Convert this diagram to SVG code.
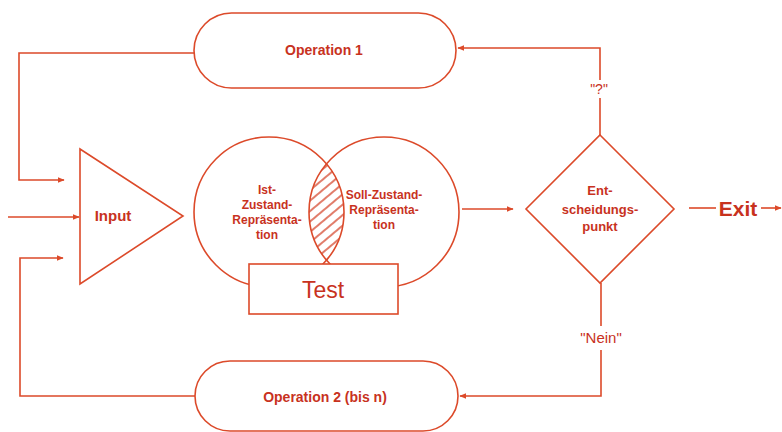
<svg xmlns="http://www.w3.org/2000/svg" width="782" height="432" viewBox="0 0 782 432">
<style>
.s{fill:none;stroke:#dc4a2a;stroke-width:1.6}
.n{fill:#fff;stroke:#dc4a2a;stroke-width:1.6}
.t{fill:#c8321e;font-family:"Liberation Sans",Arial,sans-serif;text-anchor:middle}
.b{font-weight:bold}
</style>
<defs>
<marker id="ah" viewBox="0 0 10 10" refX="9" refY="5" markerWidth="7" markerHeight="7" orient="auto" markerUnits="userSpaceOnUse">
<path d="M0,1 L10,5 L0,9 z" fill="#dc4a2a"/>
</marker>
<pattern id="hatch" patternUnits="userSpaceOnUse" width="8" height="8" patternTransform="rotate(-40)">
<line x1="0" y1="1" x2="8" y2="1" stroke="#d4442a" stroke-width="1.4"/>
</pattern>
<clipPath id="lc"><circle cx="269" cy="212" r="75"/></clipPath>
</defs>
<g id="connectors">
<path class="s" d="M194,53 L19,53 L19,180 L64,180" marker-end="url(#ah)"/>
<path class="s" d="M8,217 L79,217" marker-end="url(#ah)"/>
<path class="s" d="M195,396 L20,396 L20,258 L63,258" marker-end="url(#ah)"/>
<path class="s" d="M462,209 L513,209" marker-end="url(#ah)"/>
<path class="s" d="M600,135 L600,98 M600,80 L600,48 L458,48" marker-end="url(#ah)"/>
<path class="s" d="M601,283 L601,326 M601,350 L601,396 L460,396" marker-end="url(#ah)"/>
<path class="s" d="M689,208 L716,208"/>
<path class="s" d="M761,208 L781,208" marker-end="url(#ah)"/>
<text class="t" x="599" y="94" font-size="14">"?"</text>
<text class="t" x="601" y="343" font-size="15">"Nein"</text>
</g>
<g id="op1">
<rect class="n" x="194" y="13" width="262" height="75" rx="37.5"/>
<text class="t b" x="324" y="55" font-size="14">Operation 1</text>
</g>
<g id="op2">
<rect class="n" x="195" y="361" width="263" height="70" rx="35"/>
<text class="t b" x="325" y="402" font-size="14">Operation 2 (bis n)</text>
</g>
<g id="input">
<path class="n" d="M80,149 L183,216 L80,284 z"/>
<text class="t b" x="113" y="221" font-size="15">Input</text>
</g>
<g id="ist">
<circle class="s" cx="269" cy="212" r="75"/>
<text class="t b" font-size="12"><tspan x="267" y="194">Ist-</tspan><tspan x="267" y="209">Zustand-</tspan><tspan x="267" y="224">Repräsenta-</tspan><tspan x="267" y="239">tion</tspan></text>
</g>
<g id="soll">
<circle class="s" cx="384" cy="212" r="75"/>
<circle cx="384" cy="212" r="75" fill="url(#hatch)" clip-path="url(#lc)"/>
<text class="t b" font-size="12"><tspan x="384" y="199">Soll-Zustand-</tspan><tspan x="384" y="214">Repräsenta-</tspan><tspan x="384" y="229">tion</tspan></text>
</g>
<g id="test">
<rect class="n" x="249" y="264" width="149" height="50"/>
<text class="t" x="323" y="298" font-size="23">Test</text>
</g>
<g id="decision">
<path class="n" d="M600,135 L674,209 L600,283 L526,209 z"/>
<text class="t b" font-size="13"><tspan x="600" y="195">Ent-</tspan><tspan x="600" y="214">scheidungs-</tspan><tspan x="600" y="231">punkt</tspan></text>
</g>
<g id="exit">
<text class="t b" x="738" y="216" font-size="21">Exit</text>
</g>
</svg>
